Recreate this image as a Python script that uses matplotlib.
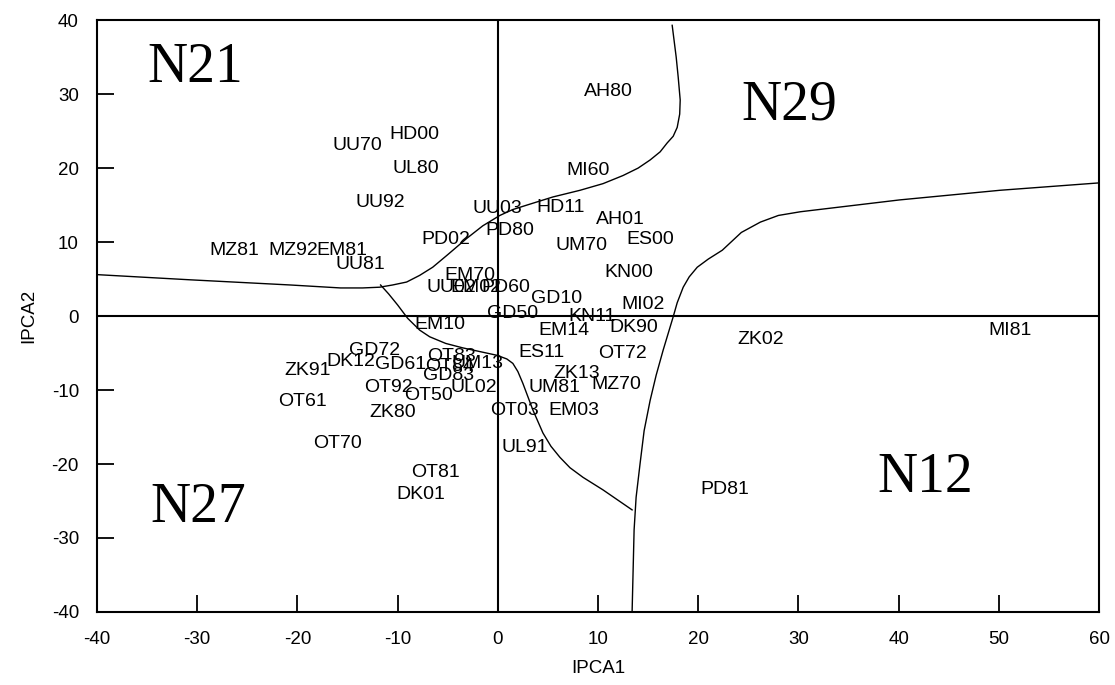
import matplotlib
matplotlib.use('Agg')
import matplotlib.pyplot as plt

plt.rcParams['font.family'] = ['Liberation Sans', 'DejaVu Sans']
plt.rcParams['axes.unicode_minus'] = False

# sample labels and their positions (IPCA1, IPCA2)
names = ['AH80', 'HD00', 'UU70', 'UL80', 'MI60', 'UU92', 'UU03', 'HD11', 'AH01', 'ES00',
         'PD80', 'PD02', 'UM70', 'MZ81', 'MZ92', 'EM81', 'UU81', 'KN00', 'EM70', 'UU02',
         'EM02', 'PD60', 'GD10', 'GD50', 'KN11', 'MI02', 'EM14', 'DK90', 'EM10', 'ZK02',
         'MI81', 'ES11', 'OT72', 'ZK13', 'UM81', 'MZ70', 'EM03', 'OT03', 'UL91', 'OT81',
         'UL02', 'OT50', 'GD83', 'OT83', 'OT84', 'UM13', 'GD72', 'DK12', 'GD61', 'ZK91',
         'OT92', 'OT61', 'ZK80', 'OT70', 'DK01', 'PD81']
ipca1 = [11.0, -8.3, -14.0, -8.2, 9.0, -11.7, 0.0, 6.3, 12.2, 15.2,
         1.2, -5.2, 8.4, -26.3, -20.4, -15.6, -13.7, 13.1, -2.8, -4.6,
         -2.2, 0.8, 5.9, 1.5, 9.4, 14.5, 6.6, 13.6, -5.8, 26.2,
         51.1, 4.4, 12.4, 7.9, 5.7, 11.8, 7.6, 1.7, 2.7, -6.2,
         -2.4, -6.9, -4.9, -4.6, -4.8, -2.0, -12.3, -14.7, -9.7, -19.0,
         -10.9, -19.5, -10.5, -16.0, -7.7, 22.7]
ipca2 = [30.3, 24.5, 23.0, 19.9, 19.7, 15.4, 14.6, 14.7, 13.1, 10.4,
         11.5, 10.3, 9.6, 8.9, 8.9, 8.9, 7.0, 5.9, 5.5, 3.9,
         3.9, 3.9, 2.4, 0.4, 0.0, 1.5, -1.9, -1.6, -1.2, -3.2,
         -2.0, -4.9, -5.1, -7.7, -9.6, -9.3, -12.7, -12.8, -17.8, -21.1,
         -9.6, -10.8, -8.0, -5.5, -6.8, -6.4, -4.6, -6.2, -6.5, -7.3,
         -9.6, -11.6, -13.0, -17.2, -24.1, -23.5]

# group names
groups = ['N21', 'N29', 'N12', 'N27']
group_x = [-30.2, 29.1, 42.7, -29.9]
group_y = [33.5, 28.4, -21.9, -25.9]

# boundary curves
b1_x = [-40, -30.7, -20.7, -15.7, -13.5, -11.8, -10.5, -9.1, -7.8, -6.5, -5.0, -3.1, -1.5, 0.2,
        1.5, 2.9, 5.5, 8.2, 10.5, 12.5, 14.0, 15.2, 16.2, 16.9, 17.5, 17.9, 18.15, 18.2, 18.0, 17.8, 17.4]
b1_y = [5.6, 4.9, 4.2, 3.8, 3.8, 3.9, 4.2, 4.6, 5.5, 6.6, 8.3, 10.5, 12.2, 13.6,
        14.4, 15.0, 16.1, 17.0, 17.9, 19.0, 20.0, 21.1, 22.2, 23.4, 24.3, 25.5, 27.3, 29.2, 32.3, 35.0, 39.3]
b2_x = [60, 50.1, 40.1, 30.2, 28.0, 26.2, 24.3, 22.4, 21.0, 19.9, 19.1, 18.5, 17.9, 17.5, 16.5, 15.8,
        15.2, 14.6, 14.2, 13.8, 13.6, 13.4]
b2_y = [18.0, 17.0, 15.7, 14.1, 13.6, 12.7, 11.3, 8.9, 7.7, 6.6, 5.3, 3.9, 1.8, -0.1, -4.6, -8.0,
        -11.4, -15.5, -19.9, -24.5, -28.9, -40]
b3_x = [-11.7, -10.9, -10.0, -9.0, -7.8, -6.8, -5.2, -3.5, -1.8, -0.1, 0.9, 1.5, 2.0, 2.5, 3.5,
        4.5, 5.3, 6.2, 7.2, 8.5, 10.5, 13.4]
b3_y = [4.2, 3.0, 1.5, -0.3, -1.9, -2.8, -3.7, -4.3, -4.8, -5.3, -5.8, -6.4, -7.5, -9.1, -12.7,
        -15.8, -17.6, -19.1, -20.5, -21.8, -23.5, -26.2]

fig = plt.figure(figsize=(11.15, 6.85), dpi=100)
ax = fig.add_axes([0.087, 0.1066, 0.8987, 0.864])

ax.axhline(0, color='black', lw=1.5)
ax.axvline(0, color='black', lw=1.5)

for bx, by in [(b1_x, b1_y), (b2_x, b2_y), (b3_x, b3_y)]:
    ax.plot(bx, by, color='black', lw=1.0, solid_joinstyle='round')

for n, x, y in zip(names, ipca1, ipca2):
    ax.text(x, y, n, ha='center', va='center', fontsize=14)

for g, x, y in zip(groups, group_x, group_y):
    ax.text(x, y, g, ha='center', va='center', fontsize=40, family='Liberation Serif')

ax.set_xlim(-40, 60)
ax.set_ylim(-40, 40)
ax.set_xticks(range(-40, 61, 10))
ax.set_yticks(range(-40, 41, 10))
ax.tick_params(direction='in', length=12, width=1.3, labelsize=13.5)
ax.tick_params(axis='x', pad=14)
ax.tick_params(axis='y', pad=13)
for s in ax.spines.values():
    s.set_linewidth(1.5)

ax.set_xlabel('IPCA1', fontsize=13.5, labelpad=8)
ax.set_ylabel('IPCA2', fontsize=13.5, labelpad=10)

fig.savefig('out.png', dpi=100)
